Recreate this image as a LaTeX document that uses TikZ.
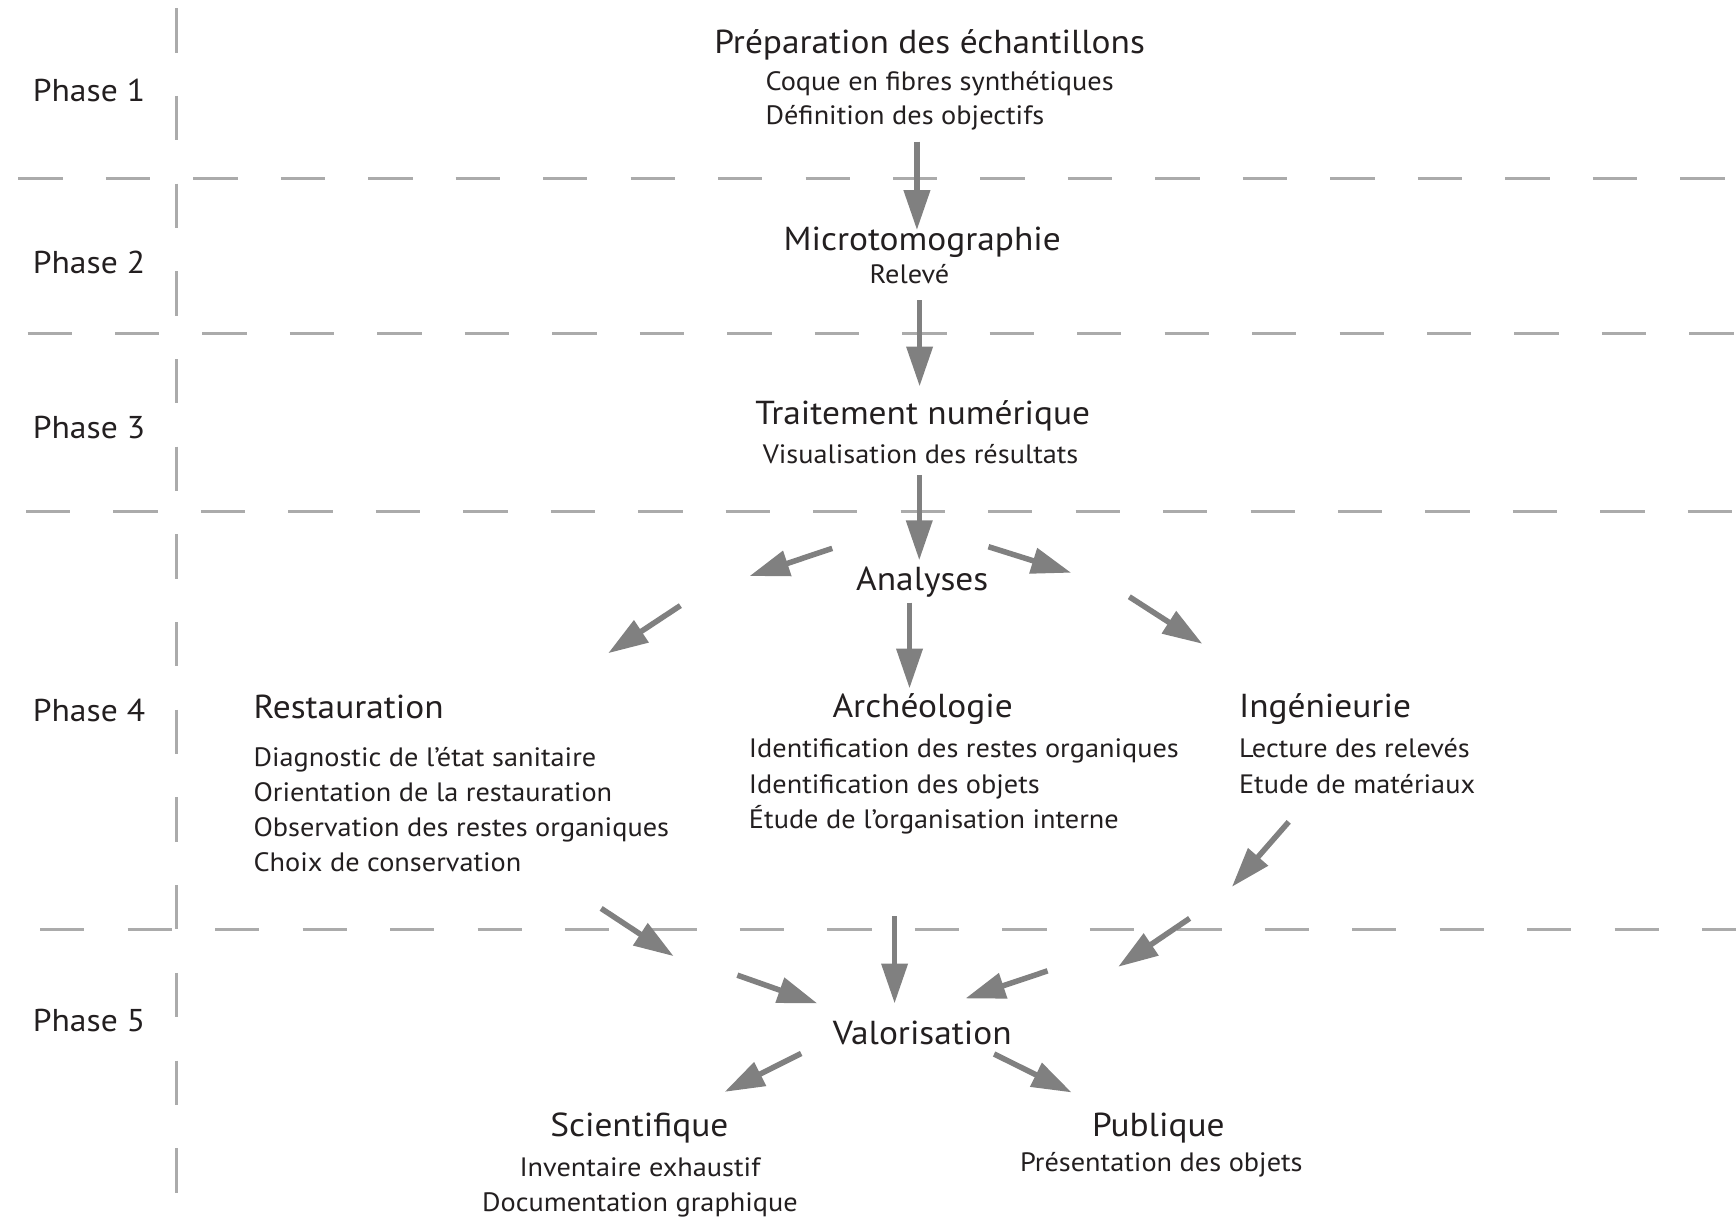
\documentclass[tikz,border=0pt]{standalone}
\usepackage{fontspec}
\setmainfont[FakeStretch=1.065]{PT Sans}
\usetikzlibrary{arrows.meta}
\definecolor{arrowgray}{HTML}{808080}
\definecolor{dashgray}{HTML}{ABABAB}
\definecolor{txt}{HTML}{231F20}
\begin{document}
\begin{tikzpicture}[x=1pt,y=-1pt,
  title/.style={font=\fontsize{30}{36}\selectfont, text=txt, inner sep=0pt, anchor=base},
  titlel/.style={font=\fontsize{30}{36}\selectfont, text=txt, inner sep=0pt, anchor=base west},
  sub/.style={font=\fontsize{24}{29}\selectfont, text=txt, inner sep=0pt, anchor=base},
  subl/.style={font=\fontsize{24}{29}\selectfont, text=txt, inner sep=0pt, anchor=base west},
  phase/.style={font=\fontsize{28.5}{34}\selectfont, text=txt, inner sep=0pt, anchor=base west},
  arr/.style={draw=arrowgray, line width=5pt, -{Triangle[length=36pt,width=23pt]}},
  hdash/.style={draw=dashgray, line width=3pt, dash pattern=on 40pt off 39pt},
  vdash/.style={draw=dashgray, line width=3pt, dash pattern=on 40pt off 39.2pt}]
\useasboundingbox[fill=white] (0,0) rectangle (1568,1100);

% phase separators
\draw[hdash] (16.6,161) -- (1568,161);
\draw[hdash] (24.9,301.5) -- (1568,301.5);
\draw[hdash] (23.5,462) -- (1568,462);
\draw[hdash] (36.3,839.5) -- (1568,839.5);
\draw[vdash] (159.6,7.5) -- (159.6,1078);

% phase labels
\node[phase] (p1) at (29.4,91.8) {Phase 1};
\node[phase] (p2) at (29.4,247) {Phase 2};
\node[phase] (p3) at (29.4,396) {Phase 3};
\node[phase] (p4) at (29.4,652) {Phase 4};
\node[phase] (p5) at (29.4,931.6) {Phase 5};

% phase 1
\node[title] (prep) at (839.7,48.2) {Préparation des échantillons};
\node[subl] (prep1) at (691.3,81.9) {Coque en fibres synthétiques};
\node[subl] (prep2) at (691.3,112.9) {Définition des objectifs};

% phase 2
\node[title] (micro) at (833,226.5) {Microtomographie};
\node[sub] (micro1) at (821.5,256) {Relevé};

% phase 3
\node[title] (trait) at (833.5,383) {Traitement numérique};
\node[sub] (trait1) at (831.5,419) {Visualisation des résultats};

% phase 4
\node[title] (ana) at (833,533) {Analyses};

\node[titlel] (rest) at (228.8,648.9) {Restauration};
\node[subl] (rest1) at (228.8,692) {Diagnostic de l’état sanitaire};
\node[subl] (rest2) at (228.8,724.2) {Orientation de la restauration};
\node[subl] (rest3) at (228.8,755.8) {Observation des restes organiques};
\node[subl] (rest4) at (228.8,787.4) {Choix de conservation};

\node[title] (arch) at (833.4,648) {Archéologie};
\node[subl] (arch1) at (676.3,684.1) {Identification des restes organiques};
\node[subl] (arch2) at (676.3,716.6) {Identification des objets};
\node[subl] (arch3) at (676.3,748.3) {Étude de l’organisation interne};

\node[titlel] (ing) at (1118.9,648) {Ingénieurie};
\node[subl] (ing1) at (1118.9,684.1) {Lecture des relevés};
\node[subl] (ing2) at (1118.9,716.6) {Etude de matériaux};

% phase 5
\node[title] (val) at (833,943) {Valorisation};
\node[title] (sci) at (577.5,1026.2) {Scientifique};
\node[sub] (sci1) at (578,1062.9) {Inventaire exhaustif};
\node[sub] (sci2) at (578,1094.5) {Documentation graphique};
\node[title] (pub) at (1046.2,1026.2) {Publique};
\node[sub] (pub1) at (1049,1058.4) {Présentation des objets};

% arrow end points
\coordinate (a1s) at (828.2,128);   \coordinate (a1e) at (828.2,207.8);
\coordinate (a2s) at (830.6,271);   \coordinate (a2e) at (830.6,349);
\coordinate (a3s) at (830.3,429);   \coordinate (a3e) at (830.3,506);
\coordinate (a4s) at (751.7,495.3); \coordinate (a4e) at (677,520.3);
\coordinate (a5s) at (892.8,493.8); \coordinate (a5e) at (967.5,517.3);
\coordinate (a6s) at (614.5,547);   \coordinate (a6e) at (549.3,590);
\coordinate (a7s) at (1020,539);    \coordinate (a7e) at (1086,581.5);
\coordinate (a8s) at (821.5,544.4); \coordinate (a8e) at (821.5,621.8);
\coordinate (a9s) at (543,820.5);   \coordinate (a9e) at (608.4,863.6);
\coordinate (a10s) at (666,880.8);  \coordinate (a10e) at (738.3,906.3);
\coordinate (a11s) at (808,827.5);  \coordinate (a11e) at (808,906.3);
\coordinate (a12s) at (946.2,876.9);\coordinate (a12e) at (872,901.8);
\coordinate (a13s) at (1074.5,829.5);\coordinate (a13e) at (1010,873.2);
\coordinate (a14s) at (1164,742.3); \coordinate (a14e) at (1112.7,801);
\coordinate (a15s) at (723.6,951.5);\coordinate (a15e) at (654.5,986.2);
\coordinate (a16s) at (897.9,952);  \coordinate (a16e) at (967.9,986.7);

\foreach \i in {1,...,16}{\draw[arr] (a\i s) -- (a\i e);}
\end{tikzpicture}
\end{document}
